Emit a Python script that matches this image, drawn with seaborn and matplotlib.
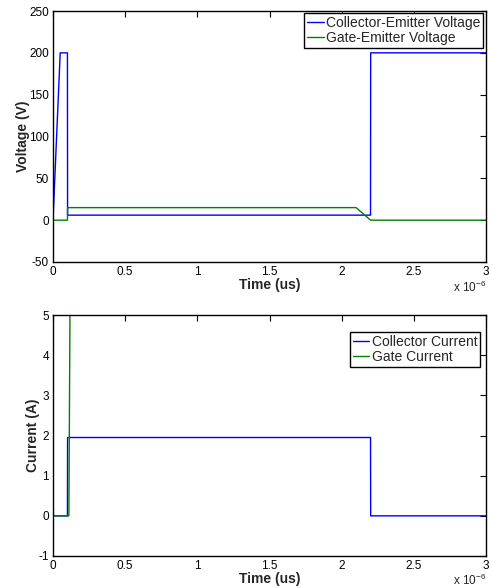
import numpy as np
import pandas as pd
import matplotlib
matplotlib.use("Agg")
import matplotlib.pyplot as plt
from matplotlib.ticker import FuncFormatter, MultipleLocator
import seaborn as sns

# ---- data (time in seconds) ----
vce_t = [0.0, 0.05e-6, 0.1e-6, 0.101e-6, 2.2e-6, 2.201e-6, 3.0e-6]
vce_v = [0.0, 200.0, 200.0, 6.0, 6.0, 200.0, 200.0]
vge_t = [0.0, 0.1e-6, 0.101e-6, 2.1e-6, 2.2e-6, 3.0e-6]
vge_v = [0.0, 0.0, 15.0, 15.0, 0.0, 0.0]
ic_t = [0.0, 0.002e-6, 0.004e-6, 0.1e-6, 0.101e-6, 2.2e-6, 2.201e-6, 3.0e-6]
ic_v = [0.0, 0.08, 0.0, 0.0, 1.95, 1.95, 0.0, 0.0]
ig_t = [0.0, 0.11e-6, 0.125e-6, 3.0e-6]
ig_v = [0.0, 0.0, 10.0, 10.0]

top_labels = ["Collector-Emitter Voltage", "Gate-Emitter Voltage"]
bot_labels = ["Collector Current", "Gate Current"]
colors = ["#0000FF", "#008000"]

sns.set_style("white")
plt.rcParams['font.family'] = ['Liberation Sans', 'DejaVu Sans']
plt.rcParams['mathtext.fontset'] = 'custom'
plt.rcParams['mathtext.rm'] = 'Liberation Sans'

fig = plt.figure(figsize=(4.92, 5.88), dpi=100)
ax1 = fig.add_axes([53/492, 1-262/588, 433/492, 251/588])
ax2 = fig.add_axes([53/492, 1-556/588, 433/492, 241/588])

df_top = pd.concat([
    pd.DataFrame({"t": vce_t, "v": vce_v, "s": top_labels[0]}),
    pd.DataFrame({"t": vge_t, "v": vge_v, "s": top_labels[1]}),
], ignore_index=True)
df_bot = pd.concat([
    pd.DataFrame({"t": ic_t, "v": ic_v, "s": bot_labels[0]}),
    pd.DataFrame({"t": ig_t, "v": ig_v, "s": bot_labels[1]}),
], ignore_index=True)

sns.lineplot(data=df_top, x="t", y="v", hue="s", palette=colors, sort=False,
             estimator=None, ax=ax1, linewidth=1.0)
sns.lineplot(data=df_bot, x="t", y="v", hue="s", palette=colors, sort=False,
             estimator=None, ax=ax2, linewidth=1.0)

fmt = FuncFormatter(lambda x, p: "%g" % round(x * 1e6, 6))
for ax, ylim, ystep, ylabel, loc in [
    (ax1, (-50, 250), 50, "Voltage (V)", (0.993, 0.992)),
    (ax2, (-1, 5), 1, "Current (A)", (0.986, 0.929)),
]:
    ax.set_xlim(0, 3e-6)
    ax.set_ylim(*ylim)
    ax.xaxis.set_major_locator(MultipleLocator(0.5e-6))
    ax.xaxis.set_major_formatter(fmt)
    ax.yaxis.set_major_locator(MultipleLocator(ystep))
    ax.yaxis.set_major_formatter(FuncFormatter(lambda y, p: "%g" % y))
    ax.tick_params(direction="in", length=4, width=0.8, top=True, right=True,
                   labelsize=8.5, pad=3, colors="black")
    for sp in ax.spines.values():
        sp.set_visible(True)
        sp.set_color("black")
        sp.set_linewidth(1.0)
    ax.set_xlabel("Time (us)", fontsize=10, fontweight="bold", labelpad=0)
    ax.set_ylabel(ylabel, fontsize=10, fontweight="bold", labelpad=-1)
    ax.text(1.0, -0.10, r"x 10$^{-6}$", transform=ax.transAxes,
            ha="right", va="center", fontsize=8.5)
    leg = ax.legend(loc="upper right", bbox_to_anchor=loc, fontsize=10,
                    frameon=True, fancybox=False, edgecolor="black",
                    handlelength=1.2, handletextpad=0.15, borderpad=0.2,
                    labelspacing=0.1, borderaxespad=0.0, title=None)
    leg.get_frame().set_linewidth(1.0)
    leg.get_frame().set_alpha(1)

fig.savefig("out.png", dpi=100)
